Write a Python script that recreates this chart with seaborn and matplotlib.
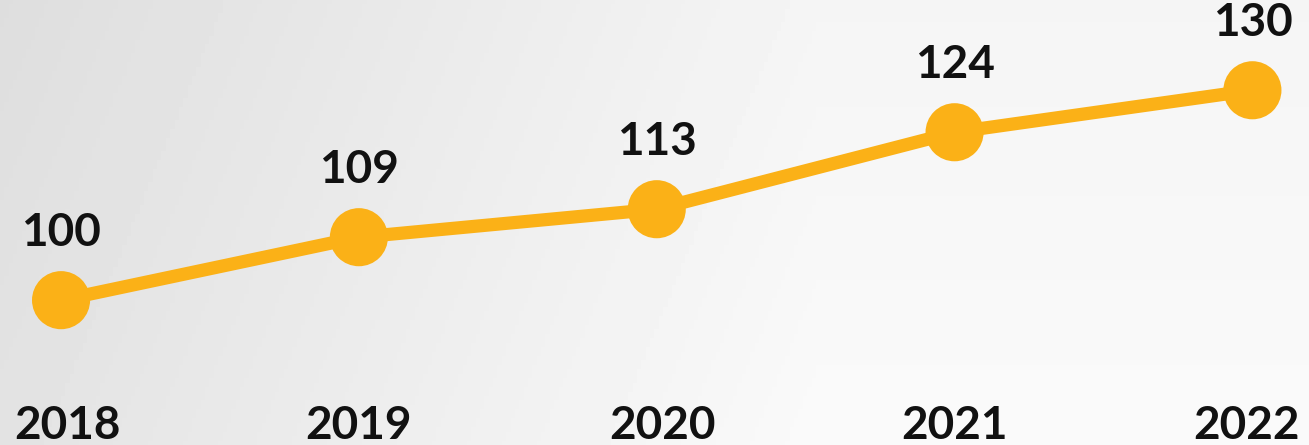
import numpy as np
import pandas as pd
import seaborn as sns
import matplotlib.pyplot as plt

years = ['2018', '2019', '2020', '2021', '2022']
values = [100, 109, 113, 124, 130]

df = pd.DataFrame({"pos": np.arange(len(years)), "Year": years, "Value": values})

sns.set_style("white")
plt.rcParams['font.family'] = ['Lato', 'DejaVu Sans']

orange = '#FBB117'

fig = plt.figure(figsize=(13.09, 4.45), dpi=100)
ax = fig.add_axes([0, 0, 1, 1])

xlim = (-0.205, 4.19)
ylim = (79.3, 142.9)

# soft grey gradient background
gx = np.linspace(0, 1, 300)
gy = np.linspace(0, 1, 100)
GX, GY = np.meshgrid(gx, gy)
shade = 0.87 + 0.09 * np.clip(GX * 1.6, 0, 1) + 0.02 * GY
shade = np.clip(shade, 0, 1)
ax.imshow(shade, cmap='gray', vmin=0, vmax=1, extent=(*xlim, *ylim),
          origin='upper', aspect='auto', zorder=0)

sns.lineplot(data=df, x="pos", y="Value", color=orange, linewidth=9.5,
             ax=ax, zorder=2)
sns.scatterplot(data=df, x="pos", y="Value", color=orange, s=1750,
                edgecolor='none', ax=ax, zorder=3)

for p, v in zip(df["pos"], df["Value"]):
    ax.text(p, v + 9.6, str(v), ha='center', va='center', fontsize=33,
            fontweight='bold', color='#111111', zorder=4)

offsets = [0.02, 0.0, 0.02, 0.0, -0.02]
for p, y, off in zip(df["pos"], df["Year"], offsets):
    ax.text(p + off, 80.1, y, ha='center', va='baseline', fontsize=33,
            fontweight='bold', color='#111111', zorder=4)

ax.set_xlim(*xlim)
ax.set_ylim(*ylim)
ax.set_axis_off()

fig.savefig("out.png", dpi=100)
